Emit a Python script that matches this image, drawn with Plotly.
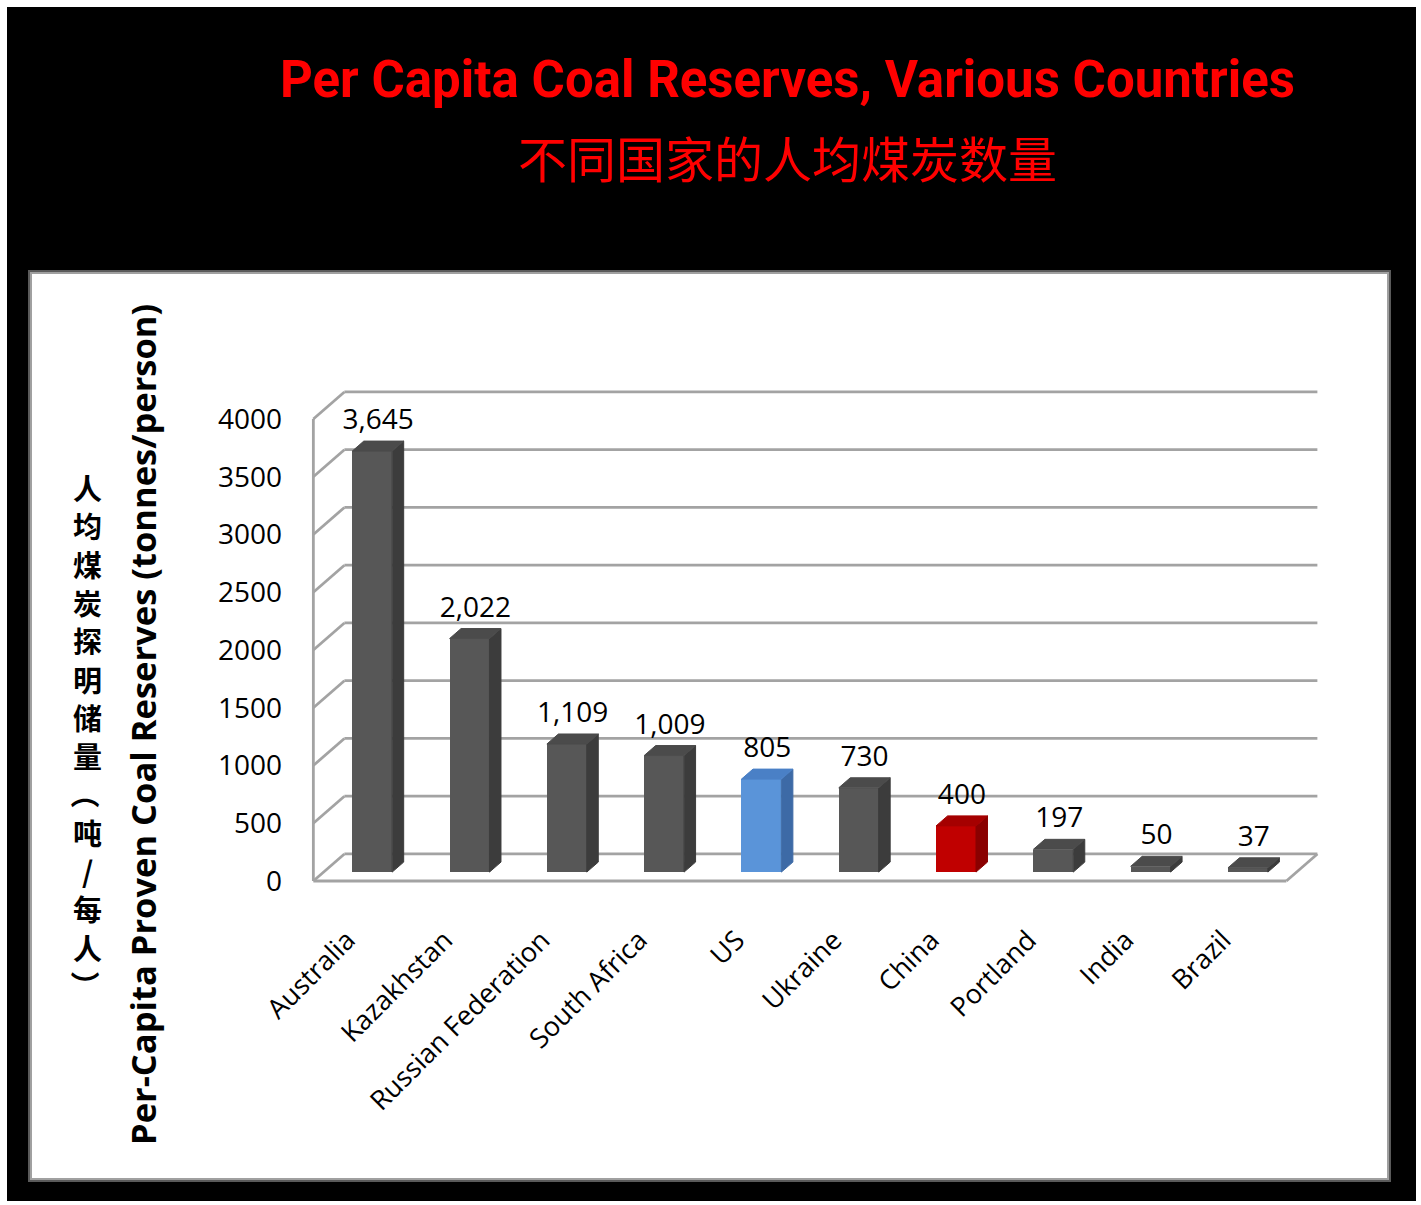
import plotly.graph_objects as go

# ---- data ----
countries = ["Australia", "Kazakhstan", "Russian Federation", "South Africa", "US",
             "Ukraine", "China", "Portland", "India", "Brazil"]
reserves = [3645, 2022, 1109, 1009, 805, 730, 400, 197, 50, 37]
y_ticks = [0, 500, 1000, 1500, 2000, 2500, 3000, 3500, 4000]
cn_axis_chars = ["人", "均", "煤", "炭", "探", "明", "储", "量", "（", "吨", "/", "每", "人", "）"]

front_colors = ["#575757"] * 10
side_colors = ["#3c3c3c"] * 10
top_colors = ["#4b4b4b"] * 10
front_colors[4], side_colors[4], top_colors[4] = "#5a94d9", "#3d6aa6", "#4a80c6"
front_colors[6], side_colors[6], top_colors[6] = "#c00000", "#8a0000", "#a50000"

W, H = 1421, 1205

# pseudo-3D geometry (depth vector of the box in data units)
DX, DY = 0.319, 234.0          # full depth of the floor / left wall
F1, F2 = 0.33, 0.70            # bar front / back depth fractions
BAR_W = 0.41
X0, X1 = -0.5, 9.5             # floor extent along categories
PX_CAT, PX_UNIT = 97.3, 0.1155
X_ORIGIN_PX, Y_ORIGIN_PX = 362.0, 881.0

x_range = [-0.75, 10.1]
y_range = [-320.0, 4400.0]
xd = [(X_ORIGIN_PX + x_range[0] * PX_CAT) / W, (X_ORIGIN_PX + x_range[1] * PX_CAT) / W]
yd = [1 - (Y_ORIGIN_PX - y_range[0] * PX_UNIT) / H, 1 - (Y_ORIGIN_PX - y_range[1] * PX_UNIT) / H]


def px(x):
    return x / W


def py(y):
    return 1 - y / H


fig = go.Figure()

# bar front faces
bx = [i + F1 * DX for i in range(len(countries))]
fig.add_trace(go.Bar(
    x=bx, y=reserves, base=[F1 * DY] * len(reserves), width=BAR_W,
    marker=dict(color=front_colors, line=dict(width=0)),
    hoverinfo="skip", showlegend=False,
))

# bar top and side faces
ddx = (F2 - F1) * DX
b1, b2 = F1 * DY, F2 * DY
for i, v in enumerate(reserves):
    xl, xr = bx[i] - BAR_W / 2, bx[i] + BAR_W / 2
    fig.add_trace(go.Scatter(
        x=[xr, xr, xr + ddx, xr + ddx, xr], y=[b1, v + b1, v + b2, b2, b1],
        fill="toself", fillcolor=side_colors[i], mode="lines", line=dict(width=1, color=side_colors[i]),
        hoverinfo="skip", showlegend=False,
    ))
    fig.add_trace(go.Scatter(
        x=[xl, xr, xr + ddx, xl + ddx, xl], y=[v + b1, v + b1, v + b2, v + b2, v + b1],
        fill="toself", fillcolor=top_colors[i], mode="lines", line=dict(width=1, color=top_colors[i]),
        hoverinfo="skip", showlegend=False,
    ))

# value labels
fig.add_trace(go.Scatter(
    x=[b + 0.06 for b in bx], y=[v + b2 + 19 / PX_UNIT for v in reserves],
    mode="text", text=[f"{v:,}" for v in reserves], textposition="middle center",
    textfont=dict(family="Open Sans", size=28, color="#000000"),
    hoverinfo="skip", showlegend=False, cliponaxis=False,
))

shapes = [
    # black slide background and white chart panel
    dict(type="rect", xref="paper", yref="paper", x0=px(7), x1=px(1416), y0=py(1201), y1=py(7),
         fillcolor="#000000", line=dict(width=0), layer="below"),
    dict(type="rect", xref="paper", yref="paper", x0=px(28), x1=px(1391), y0=py(1182), y1=py(270),
         fillcolor="#5a5a5a", line=dict(width=0), layer="below"),
    dict(type="rect", xref="paper", yref="paper", x0=px(30), x1=px(1389), y0=py(1180), y1=py(272),
         fillcolor="#a0a0a0", line=dict(width=0), layer="below"),
    dict(type="rect", xref="paper", yref="paper", x0=px(32), x1=px(1387), y0=py(1178), y1=py(274),
         fillcolor="#ffffff", line=dict(width=0), layer="below"),
]

grid = dict(color="#a3a3a3", width=2.8)
for t in y_ticks:
    shapes.append(dict(type="line", xref="x", yref="y", x0=X0 + DX, x1=X1 + DX, y0=t + DY, y1=t + DY,
                       line=grid, layer="below"))
    shapes.append(dict(type="line", xref="x", yref="y", x0=X0, x1=X0 + DX, y0=t, y1=t + DY,
                       line=grid, layer="below"))
shapes.append(dict(type="line", xref="x", yref="y", x0=X0, x1=X0, y0=0, y1=y_ticks[-1],
                   line=grid, layer="below"))
shapes.append(dict(type="line", xref="x", yref="y", x0=X0, x1=X1, y0=0, y1=0, line=grid, layer="below"))
shapes.append(dict(type="line", xref="x", yref="y", x0=X1, x1=X1 + DX, y0=0, y1=DY, line=grid, layer="below"))

annotations = [
    dict(text="<b>Per Capita Coal Reserves, Various Countries</b>", xref="paper", yref="paper",
         x=px(787), y=py(80), xanchor="center", yanchor="middle", showarrow=False,
         font=dict(family="Liberation Sans Narrow, Roboto, Arial", size=51, color="#ff0000")),
    dict(text="不同国家的人均煤炭数量", xref="paper", yref="paper",
         x=px(787), y=py(157), xanchor="center", yanchor="middle", showarrow=False,
         font=dict(family="Noto Sans CJK SC", size=49, color="#ff0000")),
    dict(text="<b>Per-Capita Proven Coal Reserves (tonnes/person)</b>", xref="paper", yref="paper",
         x=px(142), y=py(725), xanchor="center", yanchor="middle", textangle=-90, showarrow=False,
         font=dict(family="Open Sans", size=34.5, color="#000000")),
]

# vertical Chinese axis title, one character per row (brackets turned sideways)
CN_TOP, CN_STEP = 487.0, 38.3
for k, ch in enumerate(cn_axis_chars):
    rotated = ch in "（）"
    annotations.append(dict(
        text=ch, xref="paper", yref="paper", x=px(87), y=py(CN_TOP + k * CN_STEP),
        xanchor="center", yanchor="middle", showarrow=False, textangle=90 if rotated else 0,
        font=dict(family="Noto Sans CJK SC", size=29, color="#000000", weight="bold"),
    ))

fig.update_layout(
    width=W, height=H, margin=dict(l=0, r=0, t=0, b=0, autoexpand=False),
    paper_bgcolor="#ffffff", plot_bgcolor="rgba(0,0,0,0)",
    showlegend=False, shapes=shapes, annotations=annotations, bargap=0,
    xaxis=dict(domain=xd, range=x_range, tickvals=[i - 0.15 for i in range(len(countries))],
               ticktext=countries, tickangle=-45, showgrid=False, zeroline=False, showline=False,
               ticks="", automargin=False,
               tickfont=dict(family="Open Sans", size=27, color="#000000"), fixedrange=True),
    yaxis=dict(domain=yd, range=y_range, tickvals=y_ticks, ticktext=[str(t) for t in y_ticks],
               showgrid=False, zeroline=False, showline=False, ticks="", automargin=False,
               ticklabelstandoff=6,
               tickfont=dict(family="Open Sans", size=28, color="#000000"), fixedrange=True),
)

fig.write_html("out.html")
